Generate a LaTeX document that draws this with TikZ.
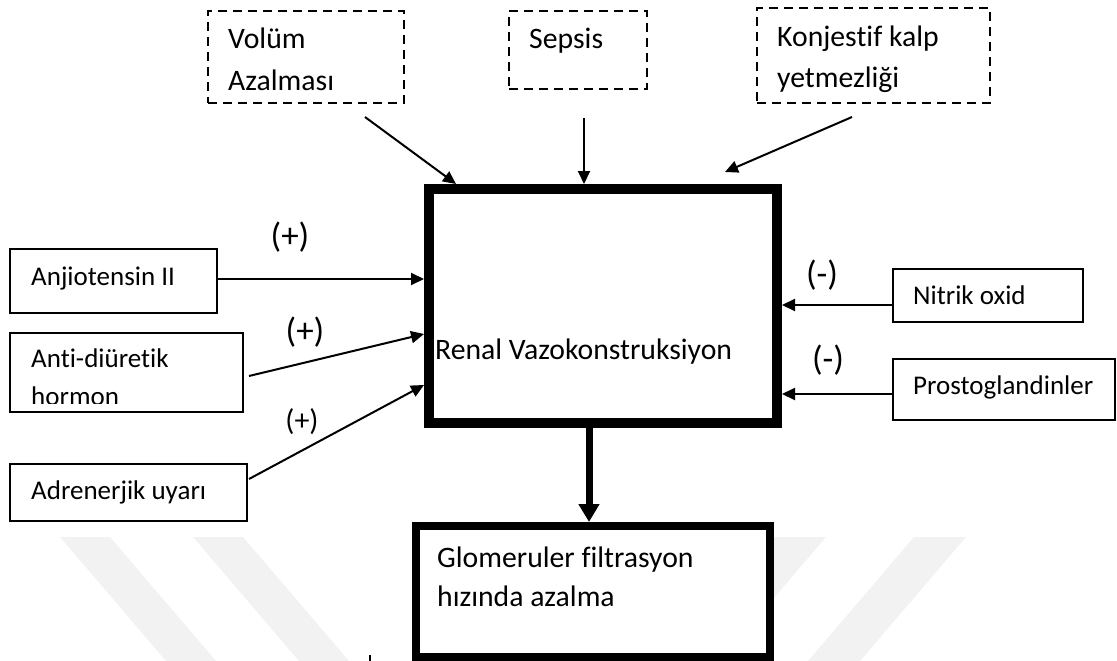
\documentclass[tikz,border=0pt]{standalone}
\usepackage{fontspec}
\setmainfont{Carlito}[Ligatures={NoCommon}]
\usetikzlibrary{arrows.meta,calc}
\begin{document}
\begin{tikzpicture}[x=1pt,y=-1pt,
  box/.style={draw,line width=1.8pt,fill=white,inner sep=0pt,outer sep=0.9pt},
  dbox/.style={box,dash pattern=on 9pt off 6pt},
  txtS/.style={anchor=base west,inner sep=0pt,font=\fontsize{27}{31}\selectfont},
  txtL/.style={anchor=base west,inner sep=0pt,font=\fontsize{29.7}{34}\selectfont},
  sign/.style={inner sep=0pt,font=\fontsize{35}{38}\selectfont},
  signs/.style={inner sep=0pt,font=\fontsize{30}{34}\selectfont},
  arr/.style={line width=2pt,-{Triangle[length=13pt,width=12pt]}},
  bigarr/.style={line width=7pt,-{Triangle[length=18pt,width=20pt]}},
  wm/.style={fill=black!5,draw=none}]
\useasboundingbox (0,0) rectangle (1117,661);
% watermark bands
\fill[wm] (60,537) -- (110,537) -- (216,661) -- (166,661) -- cycle;
\fill[wm] (193,537) -- (243,537) -- (349,661) -- (299,661) -- cycle;
\fill[wm] (773,537) -- (826,537) -- (720,661) -- (667,661) -- cycle;
\fill[wm] (914,537) -- (966,537) -- (860,661) -- (808,661) -- cycle;
% top dashed boxes
\node[dbox,minimum width=196pt,minimum height=92pt] (vol) at (306,57) {};
\node[dbox,minimum width=138pt,minimum height=78pt] (sep) at (578,50) {};
\node[dbox,minimum width=233pt,minimum height=95pt] (kon) at (873.5,55.5) {};
\node[txtL] (volt1) at (228,49) {Volüm};
\node[txtL] (volt2) at (228,91) {Azalması};
\node[txtL] (sept) at (529,49) {Sepsis};
\node[txtL] (kont1) at (777,47) {Konjestif kalp};
\node[txtL] (kont2) at (777,88) {yetmezliği};
% main box
\node[draw,line width=10pt,fill=white,inner sep=0pt,outer sep=5pt,
      minimum width=348pt,minimum height=234pt] (main) at (603,306) {};
\node[txtL] (maint) at (435,359) {Renal Vazokonstruksiyon};
% left boxes
\node[box,minimum width=207pt,minimum height=64pt] (anj) at (113.5,281) {};
\node[txtS] (anjt) at (31,285) {Anjiotensin II};
\node[box,minimum width=233pt,minimum height=79pt] (adh) at (126.5,372.5) {};
\node[txtS] (adht1) at (31,367) {Anti-diüretik};
\begin{scope}
\clip (0,0) rectangle (1117,403);
\node[txtS] (adht2) at (31,405) {hormon};
\end{scope}
\node[box,minimum width=237pt,minimum height=57pt] (adr) at (128.5,492.5) {};
\node[txtS] (adrt) at (31,499) {Adrenerjik uyarı};
% right boxes
\node[box,minimum width=190pt,minimum height=53pt] (no) at (988,295.5) {};
\node[txtS] (not) at (913,304) {Nitrik oxid};
\node[box,minimum width=222pt,minimum height=61pt] (pg) at (1004,389.5) {};
\node[txtS] (pgt) at (913,394) {Prostoglandinler};
% bottom box
\node[draw,line width=8pt,fill=white,inner sep=0pt,outer sep=4pt,
      minimum width=354pt,minimum height=131pt] (glom) at (593,591.5) {};
\node[txtL] (glt1) at (437,567) {Glomeruler filtrasyon};
\node[txtL] (glt2) at (437,606) {hızında azalma};
% free ends
\coordinate (vs) at (365,117);
\coordinate (ss) at (584,118);
\coordinate (ks) at (852,117);
\coordinate (ke) at (725,172);
\coordinate (adhs) at (249,376);
\coordinate (adrs) at (249,479);
% connectors
\draw[arr] (vs) -- ([xshift=32pt]main.north west);
\draw[arr] (ss) -- (ss |- main.north);
\draw[arr] (ks) -- (ke);
\draw[arr] (anj.east |- 0,279) -- (main.west |- 0,279);
\draw[arr] (adhs) -- (main.west |- 0,334);
\draw[arr] (adrs) -- (main.west |- 0,385);
\draw[arr] (no.west |- 0,305) -- (main.east |- 0,305);
\draw[arr] (pg.west |- 0,394) -- (main.east |- 0,394);
\draw[bigarr] ([xshift=-14pt]main.south) -- ([xshift=-4pt]glom.north);
% signs
\node[sign] (s1) at (290,237) {(+)};
\node[sign] (s2) at (305,332) {(+)};
\node[signs] (s3) at (302,422) {(+)};
\node[sign] (s4) at (822,275) {(-)};
\node[sign] (s5) at (828,360) {(-)};
% stray mark
\fill (369,655) rectangle (371,661);
\end{tikzpicture}
\end{document}
